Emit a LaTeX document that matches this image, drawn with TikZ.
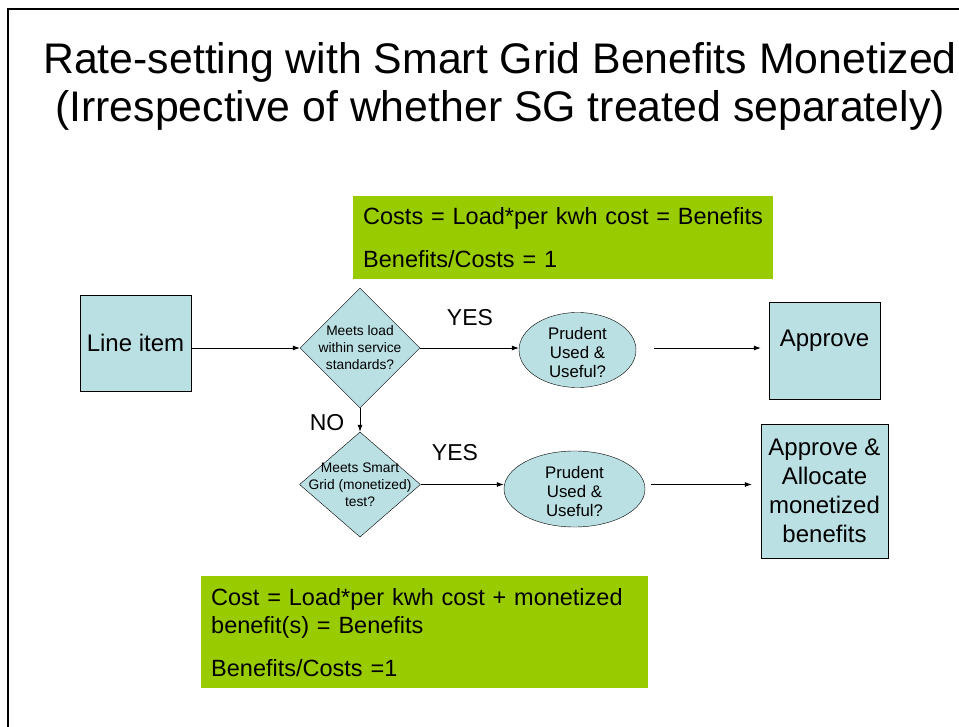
\documentclass[tikz,border=0pt]{standalone}
\usepackage{fontspec}
\setmainfont{Liberation Sans}
\usetikzlibrary{arrows.meta,positioning,shapes.geometric}

\definecolor{boxblue}{RGB}{187,224,227}
\definecolor{sggreen}{RGB}{153,204,0}

\begin{document}
\begin{tikzpicture}[
x=1pt, y=-1pt,
every node/.style={text=black},
block/.style={draw, fill=boxblue, align=center, inner sep=0pt, font=\fontsize{24}{29}\selectfont},
decide/.style={diamond, draw, fill=boxblue, inner sep=0pt,
  label={[align=center, font=\fontsize{13.8}{17}\selectfont]center:#1}},
test/.style={ellipse, draw, fill=boxblue, inner sep=0pt,
  label={[align=center, yshift=-2pt, font=\fontsize{16.8}{19}\selectfont]center:#1}},
note/.style={fill=sggreen, anchor=north west, align=left, inner xsep=10pt, font=\fontsize{23.5}{28}\selectfont},
answer/.style={font=\fontsize{23}{24}\selectfont},
arrow/.style={-{Latex[length=7pt, width=5pt]}, line width=0.8pt}
]
\useasboundingbox (0,0) rectangle (959,727);

% -------- Frame and title --------
\draw[line width=2pt] (8,727) -- (8,9) -- (959,9);
\node[font=\fontsize{42.8}{48}\selectfont, align=center] (title) at (500,86)
  {Rate-setting with Smart Grid Benefits Monetized\\(Irrespective of whether SG treated separately)};

% -------- Notes --------
\node[note, minimum width=420pt, minimum height=83pt, text width=400pt] (note1) at (353,196)
  {Costs = Load*per kwh cost = Benefits\\[15pt]Benefits/Costs = 1};
\node[note, minimum width=447pt, minimum height=112pt, text width=427pt] (note2) at (201,576)
  {Cost = Load*per kwh cost + monetized\\benefit(s) = Benefits\\[15pt]Benefits/Costs =1};

% -------- First test --------
\node[block, minimum width=111pt, minimum height=96pt] (item) at (135.5,343) {Line item};
\node[decide={Meets load\\within service\\standards?}, minimum width=120pt, minimum height=120pt] (q1) at (360,348) {};
\node[test={Prudent\\Used \&\\Useful?}, minimum width=117pt, minimum height=75pt] (ok1) at (577.5,350) {};
\node[block, minimum width=111pt, minimum height=97pt] (approve) at (824.5,350.5) {};
\node[font=\fontsize{24}{29}\selectfont, anchor=north] (approvetxt) at ([yshift=-25pt]approve.north) {Approve};

\draw[arrow] (item.east |- q1.west) -- (q1.west);
\draw[arrow] (q1.east) -- (q1.east -| ok1.west);
\draw[arrow, shorten <=18pt, shorten >=8pt] (q1.east -| ok1.east) -- (q1.east -| approve.west);
\node[answer] (yes1) at (470,318) {YES};

% -------- Second test --------
\node[decide={Meets Smart\\Grid (monetized)\\test?}, minimum width=121pt, minimum height=105pt] (q2) at (360,484.5) {};
\node[test={Prudent\\Used \&\\Useful?}, minimum width=141pt, minimum height=76pt] (ok2) at (574.5,489) {};
\node[block, minimum width=127pt, minimum height=134pt] (alloc) at (824.5,491)
  {Approve \&\\Allocate\\monetized\\benefits};

\draw[arrow] (q1.south) -- (q2.north);
\node[answer] (no) at (327,423) {NO};
\draw[arrow] (q2.east) -- (q2.east -| ok2.west);
\draw[arrow, shorten <=6pt, shorten >=9pt] (q2.east -| ok2.east) -- (q2.east -| alloc.west);
\node[answer] (yes2) at (455,453) {YES};

\end{tikzpicture}
\end{document}
